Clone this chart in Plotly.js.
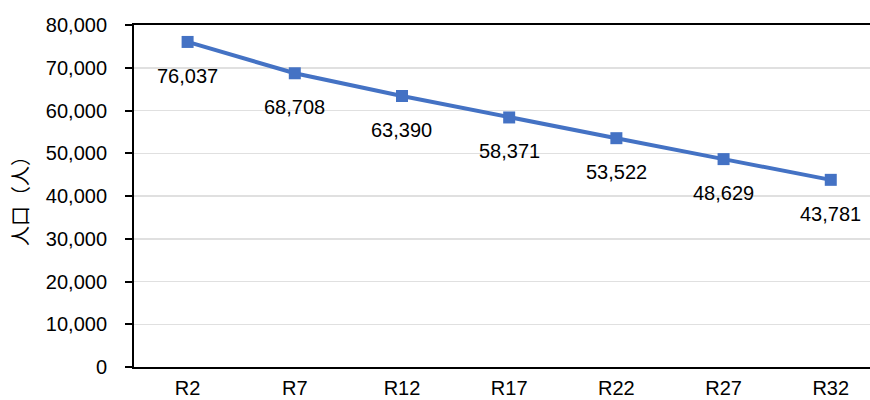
<!DOCTYPE html>
<html>
<head>
<meta charset="utf-8">
<script src="https://cdn.plot.ly/plotly-3.0.1.min.js"></script>
<style>
  html, body { margin: 0; padding: 0; background: #fff; }
  #chart { width: 870px; height: 400px; }
</style>
</head>
<body>
<div id="chart"></div>
<script>
// Projected population by year (令和)
const years = ['R2', 'R7', 'R12', 'R17', 'R22', 'R27', 'R32'];
const population = [76037, 68708, 63390, 58371, 53522, 48629, 43781];
const yTicks = [0, 10000, 20000, 30000, 40000, 50000, 60000, 70000, 80000];

const fmt = v => v.toLocaleString('en-US');
const baseFont = { family: 'Liberation Sans, Arial, sans-serif', size: 20, color: '#000' };

const trace = {
  x: years,
  y: population,
  type: 'scatter',
  mode: 'lines+markers',
  line: { color: '#4472C4', width: 4 },
  marker: { symbol: 'square', size: 12, color: '#4472C4' },
  hoverinfo: 'none'
};

// value labels under each point
const labels = years.map((yr, i) => ({
  x: yr,
  y: population[i],
  xref: 'x',
  yref: 'y',
  text: fmt(population[i]),
  showarrow: false,
  yshift: -34,
  font: baseFont
}));

const layout = {
  width: 870,
  height: 400,
  margin: { l: 134, r: 0, t: 25, b: 33 },
  paper_bgcolor: '#fff',
  plot_bgcolor: '#fff',
  showlegend: false,
  font: baseFont,
  xaxis: {
    type: 'category',
    range: [-0.5, 6.366],
    showgrid: false,
    showline: true,
    linecolor: '#000',
    linewidth: 2,
    mirror: true,
    ticks: '',
    tickfont: baseFont,
    ticklabelstandoff: 2,
    fixedrange: true
  },
  yaxis: {
    range: [0, 80000],
    tickvals: yTicks,
    ticktext: yTicks.map(fmt),
    showgrid: true,
    gridcolor: '#e0e0e0',
    gridwidth: 1.5,
    zeroline: false,
    showline: true,
    linecolor: '#000',
    linewidth: 2,
    ticks: 'outside',
    ticklen: 7,
    tickwidth: 2,
    tickcolor: '#000',
    tickfont: baseFont,
    ticklabelstandoff: 14,
    title: {
      text: '人口（人）',
      font: { family: 'Noto Sans CJK JP, sans-serif', size: 20, color: '#000' },
      standoff: 12
    },
    automargin: false,
    fixedrange: true
  },
  annotations: labels
};

Plotly.newPlot('chart', [trace], layout, { displayModeBar: false, staticPlot: true });
</script>
</body>
</html>
